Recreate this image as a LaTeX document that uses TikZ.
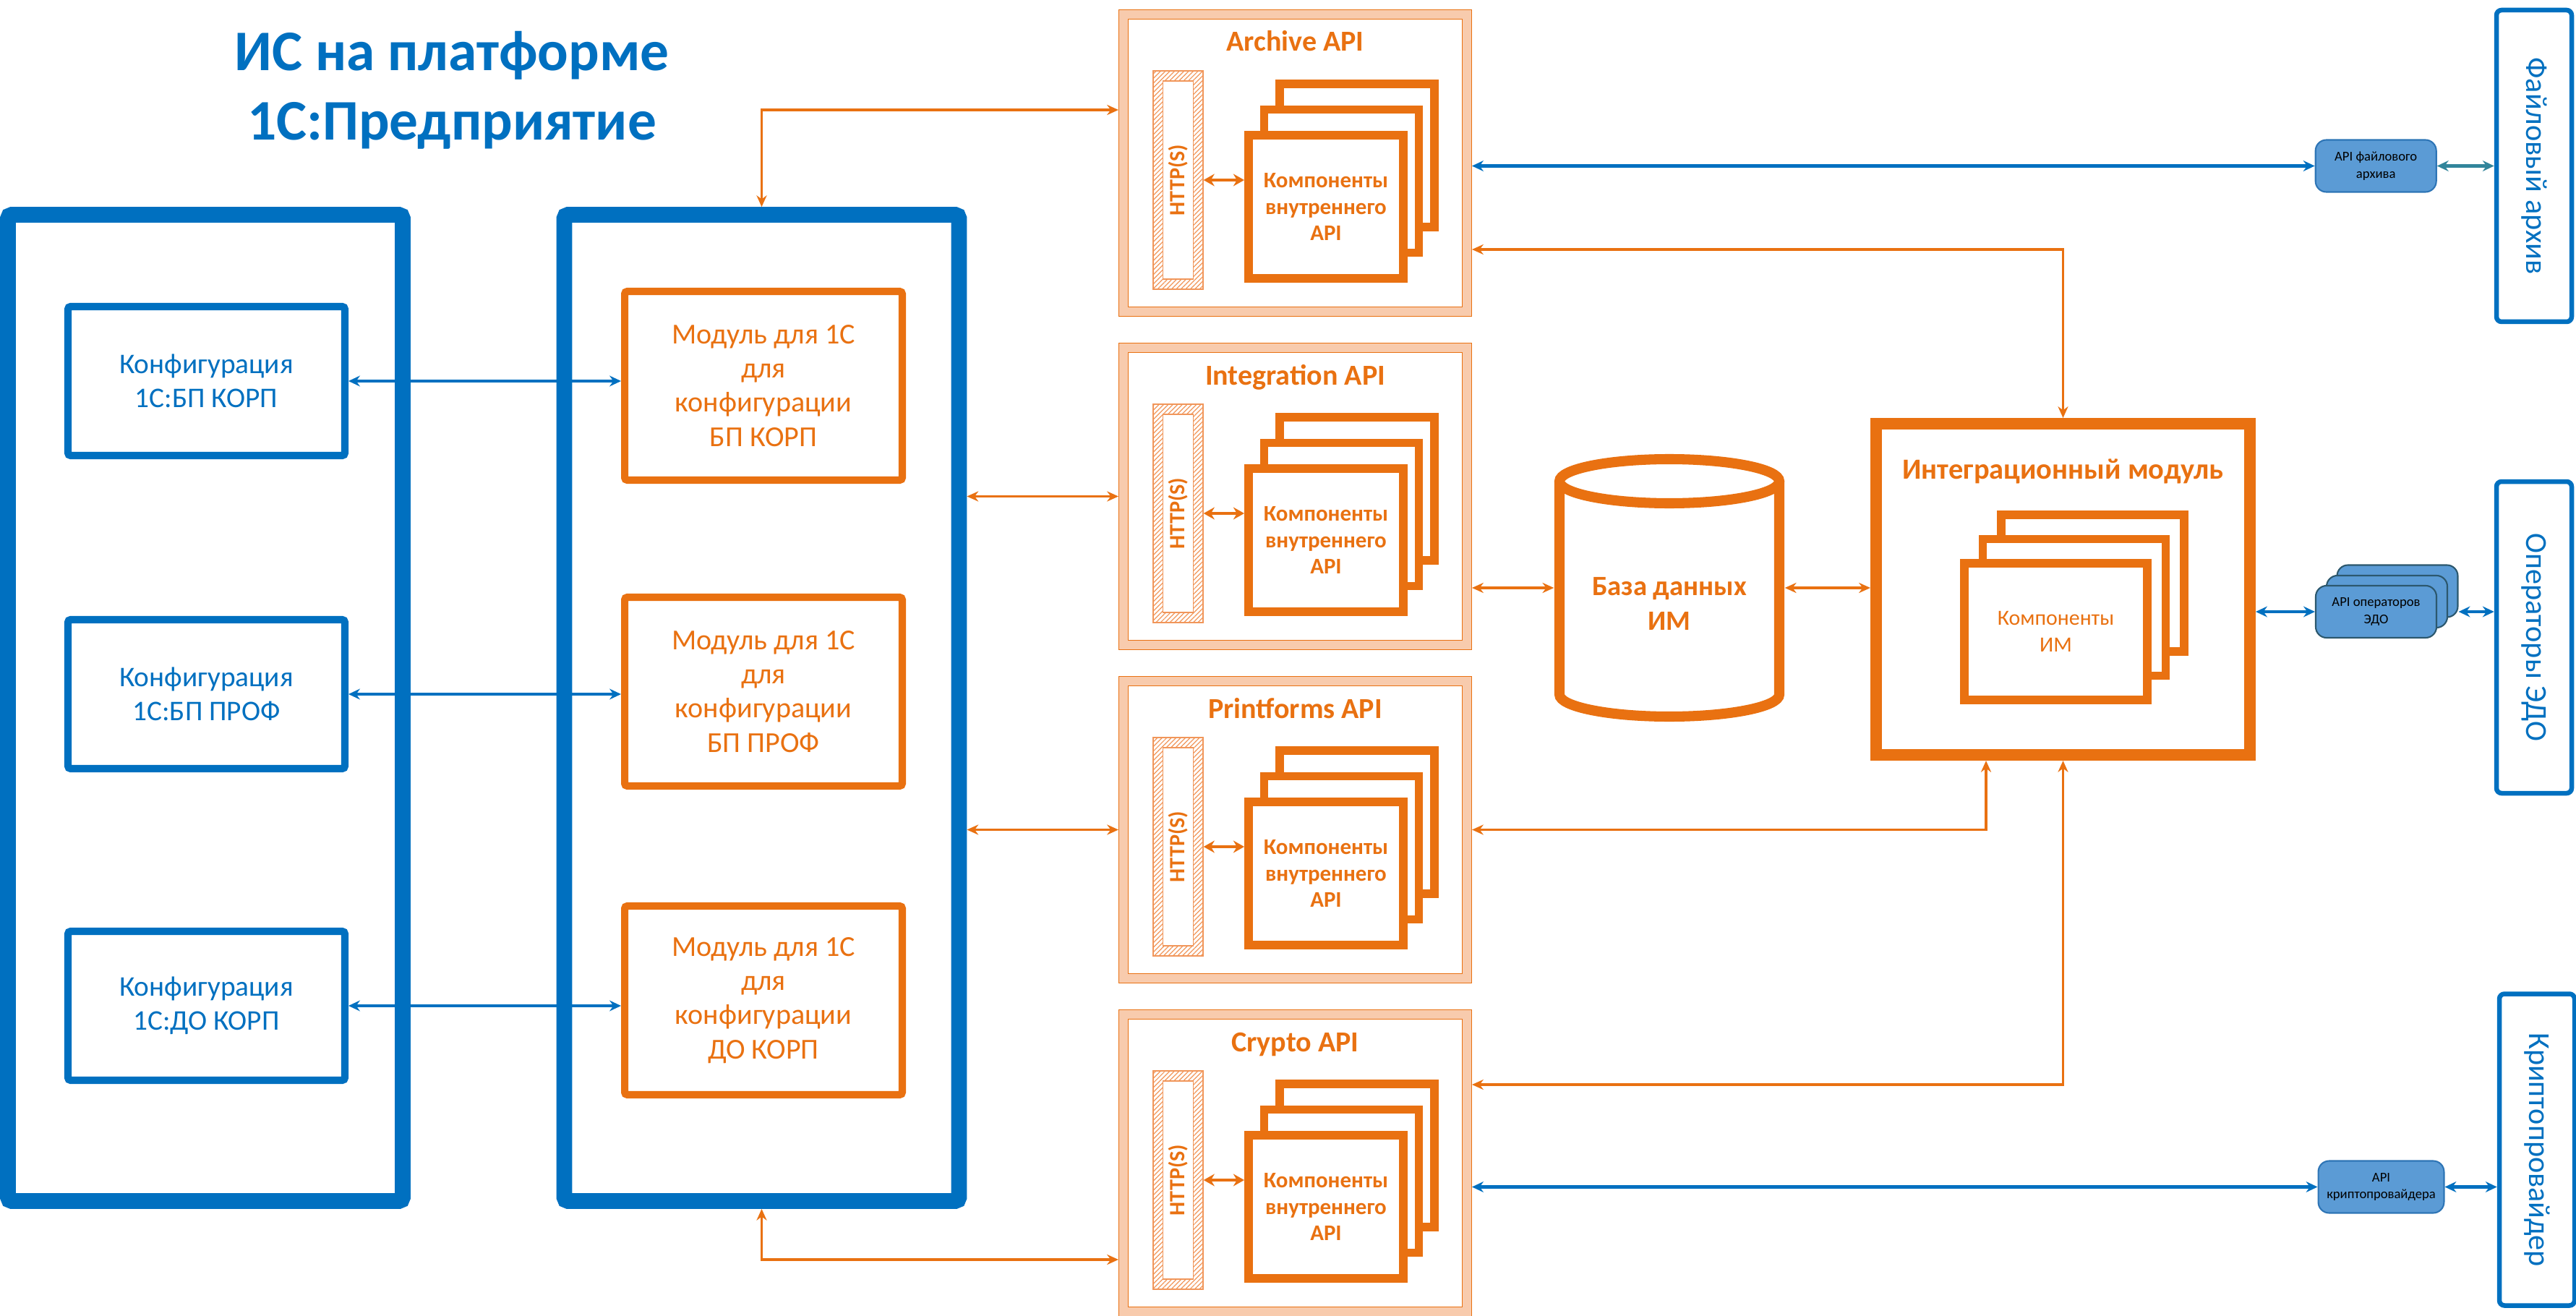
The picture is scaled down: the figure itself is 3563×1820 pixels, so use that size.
\documentclass[tikz,border=0pt]{standalone}
\usepackage{fontspec}
\setmainfont{Carlito}
\usepackage{xcolor}
\usepackage{graphicx}
\usepackage{tikz}
\usetikzlibrary{arrows.meta,positioning,shadows,patterns.meta}

\definecolor{isblue}{RGB}{0,112,192}
\definecolor{isorange}{RGB}{233,113,17}
\definecolor{ispeach}{RGB}{248,203,173}
\definecolor{ishatch}{RGB}{241,150,90}
\definecolor{extfill}{RGB}{91,155,213}
\definecolor{extline}{RGB}{46,117,182}
\definecolor{edoline}{RGB}{44,88,110}
\definecolor{isteal}{RGB}{49,133,155}

\begin{document}
\begin{tikzpicture}[x=0.1mm, y=-0.1mm, node distance=8mm,
  heading/.style={align=center, text=isblue, font=\bfseries\fontsize{22.6}{27.3}\selectfont},
  container/.style={draw=isblue, line width=6.2pt, rounded corners=1.5pt, minimum width=5.46cm, minimum height=13.64cm},
  cfgbox/.style={draw=isblue, line width=2.85pt, rounded corners=1pt, minimum width=3.83cm, minimum height=2.06cm, align=center, text=isblue, font=\fontsize{11.2}{13.4}\selectfont},
  modbox/.style={draw=isorange, line width=2.85pt, rounded corners=1pt, minimum width=3.84cm, minimum height=2.61cm, align=center, text=isorange, font=\fontsize{11.4}{13.4}\selectfont},
  apibox/.style={draw=isorange, double=ispeach, line width=0.3pt, double distance=3.4pt, outer sep=0.07cm, minimum width=4.75cm, minimum height=4.11cm},
  apititle/.style={anchor=base, text=isorange, font=\bfseries\fontsize{11.4}{12}\selectfont},
  httpbar/.style={draw=ishatch, line width=0.4pt, pattern={Lines[angle=45,distance=1.3pt,line width=0.35pt]}, pattern color=ishatch, minimum width=0.69cm, minimum height=3.02cm},
  httpin/.style={draw=ishatch, fill=white, line width=0.4pt, inner sep=0pt, minimum width=0.42cm, minimum height=2.74cm, text=isorange, font=\bfseries\fontsize{8.6}{10}\selectfont},
  comp/.style={draw=isorange, fill=white, line width=3.4pt, minimum width=2.14cm, minimum height=1.98cm, align=center, text=isorange, font=\bfseries\fontsize{8.8}{10.4}\selectfont,
    copy shadow={shadow xshift=0.43cm, shadow yshift=0.71cm, draw=isorange, fill=white, line width=3.4pt},
    copy shadow={shadow xshift=0.215cm, shadow yshift=0.355cm, draw=isorange, fill=white, line width=3.4pt}},
  imbox/.style={draw=isorange, line width=4.55pt, minimum width=5.17cm, minimum height=4.58cm},
  imtitle/.style={anchor=base, text=isorange, font=\bfseries\fontsize{11.5}{13}\selectfont},
  imcomp/.style={draw=isorange, fill=white, line width=3.4pt, minimum width=2.53cm, minimum height=1.89cm, align=center, text=isorange, font=\fontsize{8.5}{10.5}\selectfont,
    copy shadow={shadow xshift=0.51cm, shadow yshift=0.67cm, draw=isorange, fill=white, line width=3.4pt},
    copy shadow={shadow xshift=0.255cm, shadow yshift=0.335cm, draw=isorange, fill=white, line width=3.4pt}},
  dbline/.style={draw=isorange, line width=4pt},
  dbtext/.style={align=center, text=isorange, font=\bfseries\fontsize{11}{13.4}\selectfont},
  extsys/.style={draw=isblue, line width=1.85pt, rounded corners=2pt, minimum width=1.04cm, minimum height=4.31cm, text=isblue, font=\fontsize{12}{15}\selectfont},
  extapi/.style={draw=extline, fill=extfill, line width=0.6pt, rounded corners=0.15cm, minimum width=1.67cm, minimum height=0.72cm, align=center, font=\fontsize{5.3}{6.8}\selectfont},
  edoapi/.style={extapi, draw=edoline},
  conn/.style={draw=isorange, line width=1.1pt, {Stealth[length=4.5pt,width=4pt]}-{Stealth[length=4.5pt,width=4pt]}},
  bconn/.style={draw=isblue, line width=1.3pt, {Stealth[length=4.5pt,width=4.2pt]}-{Stealth[length=4.5pt,width=4.2pt]}},
  tconn/.style={bconn, draw=isteal},
  inarrow/.style={draw=isorange, line width=1.2pt, {Stealth[length=4.3pt,width=4.8pt]}-{Stealth[length=4.3pt,width=4.8pt]}}]
  \useasboundingbox (0,0) rectangle (3563,1820);
  \fill[white] (0,0) rectangle (3563,1820);

  % 1C platform
  \node[heading] (ttl) at (625,125) {ИС на платформе\\1С:Предприятие};
  \node[container] (cfgs) at (284,979) {};
  \node[container] (mods) at (1053.5,979) {};
  \node[cfgbox] (cfg1) at (285.5,527) {Конфигурация\\1С:БП КОРП};
  \node[cfgbox] (cfg2) at (285.5,960) {Конфигурация\\1С:БП ПРОФ};
  \node[cfgbox] (cfg3) at (285.5,1391) {Конфигурация\\1С:ДО КОРП};
  \node[modbox] (mod1) at (1056,533.5) {Модуль для 1С\\для\\конфигурации\\БП КОРП};
  \node[modbox] (mod2) at (1056,956.5) {Модуль для 1С\\для\\конфигурации\\БП ПРОФ};
  \node[modbox] (mod3) at (1056,1383.5) {Модуль для 1С\\для\\конфигурации\\ДО КОРП};
  \draw[bconn] (cfg1.east) -- (cfg1.east -| mod1.west);
  \draw[bconn] (cfg2.east) -- (cfg2.east -| mod2.west);
  \draw[bconn] (cfg3.east) -- (cfg3.east -| mod3.west);

  % API blocks
  \node[apibox] (archapi) at (1791.5,225.5) {};
  \node[apititle] at ([yshift=-5.8mm]archapi.north) {Archive API};
  \node[httpbar] (http1) at ([shift={(-162,23.5)}]archapi.center) {};
  \node[httpin] at (http1) {\rotatebox{90}{HTTP(S)}};
  \node[comp] (comp1) at ([shift={(42.5,60.5)}]archapi.center) {Компоненты\\внутреннего\\API};
  \draw[inarrow] (http1.east) -- (http1.east -| comp1.west);

  \node[apibox] (intapi) at (1791.5,686.5) {};
  \node[apititle] at ([yshift=-5.8mm]intapi.north) {Integration API};
  \node[httpbar] (http2) at ([shift={(-162,23.5)}]intapi.center) {};
  \node[httpin] at (http2) {\rotatebox{90}{HTTP(S)}};
  \node[comp] (comp2) at ([shift={(42.5,60.5)}]intapi.center) {Компоненты\\внутреннего\\API};
  \draw[inarrow] (http2.east) -- (http2.east -| comp2.west);

  \node[apibox] (printapi) at (1791.5,1147.5) {};
  \node[apititle] at ([yshift=-5.8mm]printapi.north) {Printforms API};
  \node[httpbar] (http3) at ([shift={(-162,23.5)}]printapi.center) {};
  \node[httpin] at (http3) {\rotatebox{90}{HTTP(S)}};
  \node[comp] (comp3) at ([shift={(42.5,60.5)}]printapi.center) {Компоненты\\внутреннего\\API};
  \draw[inarrow] (http3.east) -- (http3.east -| comp3.west);

  \node[apibox] (cryptapi) at (1791.5,1608.5) {};
  \node[apititle] at ([yshift=-5.8mm]cryptapi.north) {Crypto API};
  \node[httpbar] (http4) at ([shift={(-162,23.5)}]cryptapi.center) {};
  \node[httpin] at (http4) {\rotatebox{90}{HTTP(S)}};
  \node[comp] (comp4) at ([shift={(42.5,60.5)}]cryptapi.center) {Компоненты\\внутреннего\\API};
  \draw[inarrow] (http4.east) -- (http4.east -| comp4.west);

  \draw[conn] (mods.north) |- ([yshift=7.35mm]archapi.west);
  \draw[conn] (intapi.west -| mods.east) -- (intapi.west);
  \draw[conn] (printapi.west -| mods.east) -- (printapi.west);
  \draw[conn] (mods.south) |- ([yshift=-13.35mm]cryptapi.west);

  % database and integration module
  \node (db) at (2309,813) [minimum width=3.18cm, minimum height=3.7cm] {};
  \draw[dbline] (2157,665.5) -- (2157,960.5) arc[start angle=180, end angle=360, x radius=1.52cm, y radius=0.305cm] -- (2461,665.5);
  \draw[dbline] (2309,665.5) ellipse [x radius=1.52cm, y radius=0.305cm];
  \node[dbtext] at ([yshift=-2.2mm]db.center) {База данных\\ИМ};
  \node[imbox] (im) at (2853.5,815) {};
  \node[imtitle] at ([yshift=-8.4mm]im.north) {Интеграционный модуль};
  \node[imcomp] (imc) at (2843.5,873.5) {Компоненты\\ИМ};

  \draw[conn] (db.west -| intapi.east) -- (db.west);
  \draw[conn] (db.east) -- (db.east -| im.west);
  \draw[conn] ([yshift=-11.95mm]archapi.east) -| (im.north);
  \draw[conn] (printapi.east) -| ([xshift=-10.65mm]im.south);
  \draw[conn] ([yshift=10.85mm]cryptapi.east) -| (im.south);

  % external systems
  \node[extsys] (farch) at (3505,229.5) {\rotatebox{-90}{Файловый архив}};
  \node[extsys] (ops) at (3505,881.5) {\rotatebox{-90}{Операторы ЭДО}};
  \node[extsys] (crypt) at (3509,1590) {\rotatebox{-90}{Криптопровайдер}};
  \node[extapi, left=0.79cm of farch] (fapi) {API файлового\\архива};
  \node[edoapi] (edo3) at (3316,817.5) {};
  \node[edoapi] (edo2) at (3301.5,832) {};
  \node[edoapi] (edo) at (3286.5,846) {API операторов\\ЭДО};
  \node[extapi] (capi) at (3293.5,1641.5) {API\\криптопровайдера};

  \draw[bconn] (archapi.east |- fapi.west) -- (fapi.west);
  \draw[tconn] (fapi.east) -- (fapi.east -| farch.west);
  \draw[bconn] (im.east |- edo.west) -- (edo.west);
  \draw[bconn] (edo3.east |- edo.east) -- (edo.east -| ops.west);
  \draw[bconn] (cryptapi.east |- capi.west) -- (capi.west);
  \draw[bconn] (capi.east) -- (capi.east -| crypt.west);
\end{tikzpicture}
\end{document}
